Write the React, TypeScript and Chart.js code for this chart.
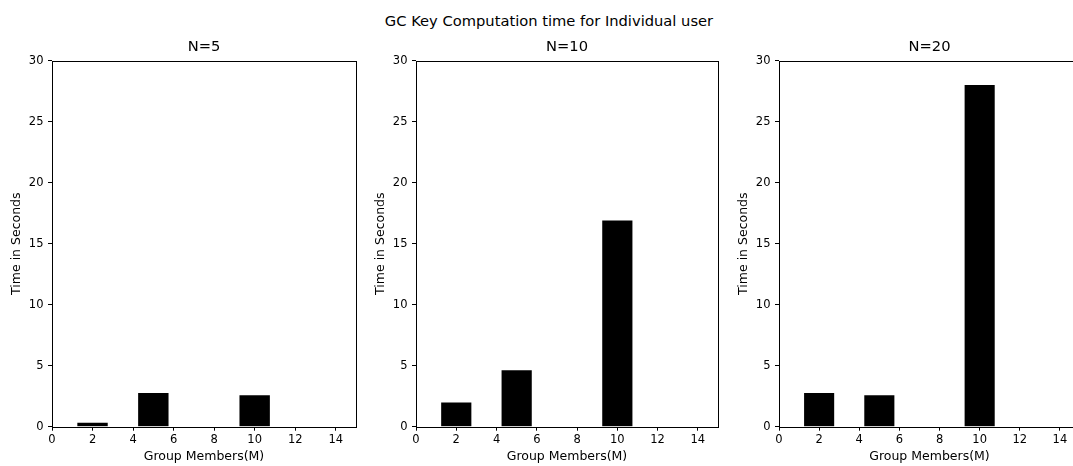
import React, { useEffect, useRef } from "react";
import { Chart, registerables } from "chart.js";

Chart.register(...registerables);

const suptitle = "GC Key Computation time for Individual user";
const panelTitles = ["N=5", "N=10", "N=20"];
const groupMembers = [2, 5, 10];
const timesN5 = [0.33, 2.76, 2.57];
const timesN10 = [1.99, 4.62, 16.9];
const timesN20 = [2.76, 2.57, 28.0];
const xTickValues = [0, 2, 4, 6, 8, 10, 12, 14];
const yTickValues = [0, 5, 10, 15, 20, 25, 30];
const xAxisTitle = "Group Members(M)";
const yAxisTitle = "Time in Seconds";

const seriesList = [timesN5, timesN10, timesN20];

const FONT = "'DejaVu Sans', 'Liberation Sans', sans-serif";

// layout of the three panels (canvas left, canvas width, y-axis width)
const panelLayout = [
  { left: 0, width: 360, yAxisWidth: 52 },
  { left: 360, width: 362, yAxisWidth: 56 },
  { left: 722, width: 362, yAxisWidth: 57 },
];

const framePlugin = {
  id: "frame",
  afterDatasetsDraw(chart: any) {
    const { ctx, chartArea } = chart;
    const { left, top, right, bottom } = chartArea;
    ctx.save();
    ctx.strokeStyle = "#000";
    ctx.lineWidth = 1;
    ctx.strokeRect(
      Math.round(left) + 0.5,
      Math.round(top) + 0.5,
      Math.round(right) - Math.round(left),
      Math.round(bottom) - Math.round(top)
    );
    ctx.restore();
  },
};

function Panel({ index }: { index: number }) {
  const ref = useRef<HTMLCanvasElement | null>(null);
  const lay = panelLayout[index];
  useEffect(() => {
    if (!ref.current) return;
    const values = seriesList[index];
    const chart = new Chart(ref.current, {
      type: "bar",
      data: {
        datasets: [
          {
            data: groupMembers.map((m, i) => ({ x: m, y: values[i] })),
            backgroundColor: "#000",
            borderWidth: 0,
            categoryPercentage: 0.75,
            barPercentage: 1.0,
          },
        ],
      },
      plugins: [framePlugin],
      options: {
        animation: false,
        responsive: false,
        devicePixelRatio: 1,
        events: [],
        layout: { padding: { left: 0, right: 4, top: 0, bottom: 0 } },
        plugins: {
          legend: { display: false },
          tooltip: { enabled: false },
          title: {
            display: true,
            text: panelTitles[index],
            fullSize: false,
            color: "#000",
            font: { family: FONT, size: 14.7, weight: "normal", lineHeight: 1.2 },
            padding: { top: 38.5, bottom: 60.7 - 38.5 - 14.7 * 1.2 },
          },
        },
        scales: {
          x: {
            type: "linear",
            min: 0,
            max: 15,
            offset: false,
            afterBuildTicks: (scale: any) => {
              scale.ticks = xTickValues.map((v) => ({ value: v }));
            },
            afterFit: (scale: any) => {
              scale.height = 39.3;
            },
            grid: {
              offset: false,
              drawOnChartArea: false,
              drawTicks: true,
              tickLength: 4,
              color: "#000",
              tickColor: "#000",
            },
            border: { display: false },
            ticks: {
              color: "#000",
              padding: 2.5,
              maxRotation: 0,
              autoSkip: false,
              font: { family: FONT, size: 11.5 },
            },
            title: {
              display: true,
              text: xAxisTitle,
              color: "#000",
              font: { family: FONT, size: 12.5 },
              padding: { top: 0, bottom: 2 },
            },
          },
          y: {
            type: "linear",
            min: 0,
            max: 30,
            afterBuildTicks: (scale: any) => {
              scale.ticks = yTickValues.map((v) => ({ value: v }));
            },
            afterFit: (scale: any) => {
              scale.width = lay.yAxisWidth;
            },
            grid: {
              drawOnChartArea: false,
              drawTicks: true,
              tickLength: 4,
              color: "#000",
              tickColor: "#000",
            },
            border: { display: false },
            ticks: {
              color: "#000",
              padding: 4.5,
              font: { family: FONT, size: 11.5 },
            },
            title: {
              display: true,
              text: yAxisTitle,
              color: "#000",
              font: { family: FONT, size: 12.5 },
              padding: { top: lay.yAxisWidth - 35.5 - 7.5, bottom: 0 },
            },
          },
        },
      } as any,
    });
    return () => chart.destroy();
  }, [index]);
  return (
    <canvas
      ref={ref}
      width={lay.width}
      height={466}
      style={{ position: "absolute", left: lay.left, top: 0, width: lay.width, height: 466 }}
    />
  );
}

export default function App() {
  return (
    <div
      style={{
        position: "absolute",
        left: 0,
        top: 0,
        width: 1073,
        height: 466,
        overflow: "hidden",
        background: "#fff",
      }}
    >
      <div
        style={{
          position: "absolute",
          left: 0,
          top: 12,
          width: 1098,
          textAlign: "center",
          fontFamily: FONT,
          fontSize: 14.7,
          lineHeight: "17px",
          color: "#000",
          whiteSpace: "nowrap",
        }}
      >
        {suptitle}
      </div>
      <Panel index={0} />
      <Panel index={1} />
      <Panel index={2} />
    </div>
  );
}
